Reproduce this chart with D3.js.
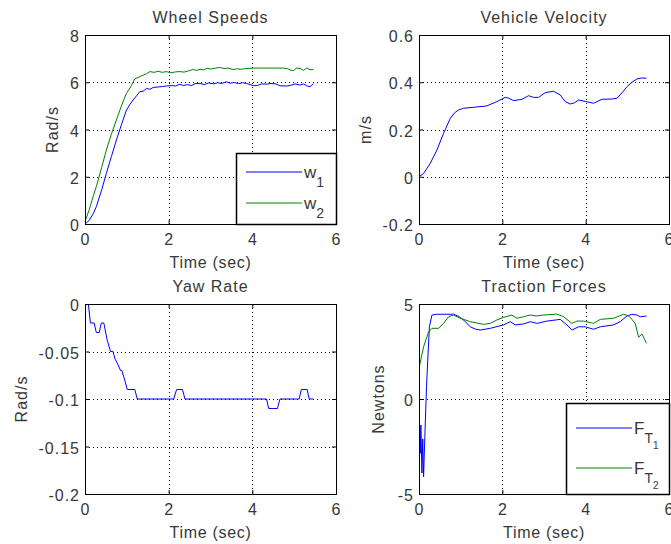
<!DOCTYPE html>
<html>
<head>
<meta charset="utf-8">
<script src="https://cdn.jsdelivr.net/npm/d3@7"></script>
<style>
  body { margin: 0; background: #fff; }
  svg text { font-family: "Liberation Sans", Arial, sans-serif; fill: #383838; }
</style>
</head>
<body>
<div id="chart"></div>
<script>
var width = 671;
var height = 544;

// ---- data ----
var timeTicks = [0, 2, 4, 6];

// wheel speeds, rad/s
var w1 = [[0,0],[0.1,0.15],[0.2,0.45],[0.27,0.73],[0.4,1.45],[0.51,2.14],[0.63,2.85],[0.75,3.55],[0.87,4.2],[0.99,4.82],[1.07,5.05],[1.15,5.25],[1.23,5.42],[1.31,5.6],[1.39,5.62],[1.47,5.74],[1.55,5.7],[1.63,5.78],[1.75,5.8],[1.85,5.82],[1.95,5.84],[2.07,5.86],[2.17,5.84],[2.27,5.92],[2.35,5.86],[2.45,5.9],[2.55,5.86],[2.63,5.94],[2.75,5.95],[2.85,5.9],[2.95,5.97],[3.07,5.93],[3.17,5.98],[3.27,5.95],[3.38,6.02],[3.47,5.96],[3.57,5.99],[3.67,5.94],[3.76,5.98],[3.86,5.95],[4.02,5.86],[4.12,5.86],[4.22,5.93],[4.34,5.92],[4.45,5.95],[4.56,5.93],[4.66,5.85],[4.82,5.84],[4.92,5.87],[5.02,5.93],[5.14,5.88],[5.22,5.93],[5.3,5.85],[5.38,5.81],[5.46,5.95]];
var w2 = [[0,0.1],[0.1,0.6],[0.2,1.2],[0.27,1.58],[0.4,2.4],[0.51,3.13],[0.63,3.8],[0.75,4.4],[0.87,5.0],[0.99,5.53],[1.09,5.8],[1.19,6.14],[1.29,6.22],[1.39,6.3],[1.47,6.36],[1.55,6.45],[1.65,6.42],[1.75,6.46],[1.85,6.42],[1.95,6.45],[2.05,6.4],[2.17,6.44],[2.27,6.45],[2.37,6.43],[2.47,6.48],[2.59,6.54],[2.67,6.5],[2.75,6.55],[2.83,6.52],[2.91,6.59],[3.02,6.56],[3.12,6.6],[3.22,6.63],[3.32,6.58],[3.42,6.6],[3.54,6.54],[3.64,6.57],[3.74,6.55],[3.84,6.58],[4.02,6.6],[4.2,6.6],[4.4,6.6],[4.6,6.6],[4.74,6.6],[4.84,6.57],[4.9,6.52],[4.98,6.49],[5.06,6.6],[5.14,6.59],[5.22,6.5],[5.3,6.6],[5.38,6.53],[5.46,6.54]];

// vehicle velocity, m/s
var velocity = [[0,0.0],[0.11,0.014],[0.27,0.057],[0.43,0.113],[0.59,0.184],[0.75,0.247],[0.85,0.27],[0.95,0.283],[1.07,0.29],[1.31,0.294],[1.63,0.3],[1.87,0.318],[2.07,0.336],[2.15,0.333],[2.27,0.322],[2.47,0.328],[2.63,0.343],[2.75,0.336],[2.87,0.336],[3.03,0.356],[3.23,0.362],[3.39,0.346],[3.51,0.318],[3.63,0.308],[3.73,0.313],[3.83,0.325],[3.99,0.319],[4.19,0.311],[4.39,0.328],[4.63,0.329],[4.75,0.332],[4.87,0.355],[4.99,0.381],[5.11,0.4],[5.23,0.414],[5.35,0.418],[5.46,0.417]];

// yaw rate, rad/s
var yawRate = [[0.08,0],[0.13,-0.02],[0.22,-0.02],[0.27,-0.03],[0.34,-0.03],[0.39,-0.02],[0.45,-0.02],[0.53,-0.038],[0.61,-0.05],[0.67,-0.05],[0.72,-0.058],[0.77,-0.062],[0.85,-0.07],[0.88,-0.07],[0.95,-0.08],[1.01,-0.09],[1.19,-0.09],[1.25,-0.1],[2.12,-0.1],[2.19,-0.09],[2.33,-0.09],[2.39,-0.1],[4.34,-0.1],[4.39,-0.11],[4.6,-0.11],[4.66,-0.1],[5.12,-0.1],[5.17,-0.09],[5.31,-0.09],[5.36,-0.1],[5.46,-0.1]];

// traction forces, N
var ft1 = [[0.016,-1.63],[0.03,-2.86],[0.045,-1.37],[0.07,-3.9],[0.09,-2.1],[0.11,-4.1],[0.14,-1.98],[0.18,0.65],[0.21,2.05],[0.25,3.8],[0.31,4.42],[0.43,4.46],[0.83,4.46],[0.95,4.35],[1.07,4.16],[1.23,3.8],[1.35,3.68],[1.47,3.63],[1.71,3.72],[2.03,3.9],[2.19,4.07],[2.31,3.9],[2.51,3.95],[2.67,4.07],[2.83,3.98],[3.07,4.1],[3.39,4.19],[3.55,3.9],[3.67,3.63],[3.83,3.8],[3.99,3.8],[4.19,3.67],[4.35,3.8],[4.67,3.9],[4.83,4.07],[4.99,4.37],[5.11,4.46],[5.23,4.42],[5.31,4.33],[5.46,4.37]];
var ft2 = [[0.016,1.79],[0.11,2.75],[0.23,3.54],[0.31,3.72],[0.47,3.72],[0.59,3.98],[0.71,4.33],[0.83,4.42],[0.99,4.25],[1.23,4.07],[1.55,3.93],[1.71,3.98],[1.87,4.16],[2.03,4.3],[2.23,4.42],[2.35,4.25],[2.51,4.33],[2.67,4.42],[2.83,4.37],[2.99,4.42],[3.31,4.47],[3.47,4.33],[3.55,4.19],[3.67,3.98],[3.79,4.1],[3.95,4.1],[4.19,3.98],[4.35,4.19],[4.67,4.25],[4.91,4.46],[5.03,4.37],[5.11,4.19],[5.19,3.98],[5.27,3.25],[5.35,3.42],[5.46,2.93]];

var speedTicks = [0, 2, 4, 6, 8];
var velTicks = [-0.2, 0, 0.2, 0.4, 0.6];
var velLabels = ["-0.2", "0", "0.2", "0.4", "0.6"];
var yawTicks = [-0.2, -0.15, -0.1, -0.05, 0];
var yawLabels = ["-0.2", "-0.15", "-0.1", "-0.05", "0"];
var forceTicks = [-5, 0, 5];
var forceLabels = ["-5", "0", "5"];

var BLUE = "#0000ff";
var GREEN = "#008000";

var svg = d3.select("#chart").append("svg")
    .attr("width", width)
    .attr("height", height);

function panel(cfg) {
  var x = d3.scaleLinear().domain([0, 6]).range([cfg.left, cfg.left + cfg.w]);
  var y = d3.scaleLinear().domain(cfg.yDomain).range([cfg.top + cfg.h, cfg.top]);
  var g = svg.append("g");
  var yLabels = cfg.yLabels || cfg.yTicks.map(String);

  // dotted grid
  g.selectAll(".gx").data(timeTicks.slice(1, -1)).enter().append("line")
    .attr("x1", d => Math.round(x(d)) + 0.5).attr("x2", d => Math.round(x(d)) + 0.5)
    .attr("y1", cfg.top).attr("y2", cfg.top + cfg.h)
    .attr("stroke", "#000").attr("stroke-dasharray", "1,3");
  g.selectAll(".gy").data(cfg.yTicks.slice(1, -1)).enter().append("line")
    .attr("y1", d => Math.round(y(d)) + 0.5).attr("y2", d => Math.round(y(d)) + 0.5)
    .attr("x1", cfg.left).attr("x2", cfg.left + cfg.w)
    .attr("stroke", "#000").attr("stroke-dasharray", "1,3");

  // series
  var line = d3.line().x(d => x(d[0])).y(d => y(d[1]));
  cfg.series.forEach(function(s) {
    g.append("path").datum(s.data)
      .attr("d", line)
      .attr("fill", "none")
      .attr("stroke", s.color)
      .attr("stroke-width", 1);
  });

  // box with inward ticks on all sides
  var xAxB = d3.axisTop(x).tickValues(timeTicks).tickSize(4).tickFormat("");
  var xAxT = d3.axisBottom(x).tickValues(timeTicks).tickSize(4).tickFormat("");
  var yAxL = d3.axisRight(y).tickValues(cfg.yTicks).tickSize(4).tickFormat("");
  var yAxR = d3.axisLeft(y).tickValues(cfg.yTicks).tickSize(4).tickFormat("");
  g.append("g").attr("transform", "translate(0," + (cfg.top + cfg.h) + ")").call(xAxB);
  g.append("g").attr("transform", "translate(0," + cfg.top + ")").call(xAxT);
  g.append("g").attr("transform", "translate(" + cfg.left + ",0)").call(yAxL);
  g.append("g").attr("transform", "translate(" + (cfg.left + cfg.w) + ",0)").call(yAxR);
  g.selectAll(".domain").attr("stroke", "#000").attr("stroke-width", 1);
  g.selectAll(".tick line").attr("stroke", "#000");

  // tick labels
  g.selectAll(".xl").data(timeTicks).enter().append("text")
    .attr("x", d => x(d)).attr("y", cfg.top + cfg.h + 21)
    .attr("text-anchor", "middle").attr("font-size", 16)
    .text(d => d);
  g.selectAll(".yl").data(cfg.yTicks).enter().append("text")
    .attr("x", cfg.left - 5).attr("y", d => y(d) + 7)
    .attr("text-anchor", "end").attr("font-size", 16).attr("letter-spacing", 1)
    .text((d, i) => yLabels[i]);

  // title and axis labels
  g.append("text").attr("x", cfg.left + cfg.w / 2).attr("y", cfg.top - 12)
    .attr("text-anchor", "middle").attr("font-size", 16).attr("letter-spacing", 1)
    .text(cfg.title);
  g.append("text").attr("x", cfg.left + cfg.w / 2).attr("y", cfg.top + cfg.h + 44)
    .attr("text-anchor", "middle").attr("font-size", 16).attr("letter-spacing", 0.7)
    .text("Time (sec)");
  g.append("text")
    .attr("transform", "translate(" + cfg.yLabelX + "," + (cfg.top + cfg.h / 2) + ") rotate(-90)")
    .attr("text-anchor", "middle").attr("font-size", 16).attr("letter-spacing", 1)
    .text(cfg.ylabel);

  return g;
}

// ---- panels ----
panel({ left: 85, top: 35, w: 251, h: 189, yDomain: [0, 8], yTicks: speedTicks,
  title: "Wheel Speeds", ylabel: "Rad/s", yLabelX: 58,
  series: [{ data: w1, color: BLUE }, { data: w2, color: GREEN }] });

panel({ left: 419, top: 35, w: 250, h: 189, yDomain: [-0.2, 0.6], yTicks: velTicks, yLabels: velLabels,
  title: "Vehicle Velocity", ylabel: "m/s", yLabelX: 371,
  series: [{ data: velocity, color: BLUE }] });

panel({ left: 85, top: 304, w: 251, h: 190, yDomain: [-0.2, 0], yTicks: yawTicks, yLabels: yawLabels,
  title: "Yaw Rate", ylabel: "Rad/s", yLabelX: 27,
  series: [{ data: yawRate, color: BLUE }] });

panel({ left: 419, top: 304, w: 250, h: 190, yDomain: [-5, 5], yTicks: forceTicks, yLabels: forceLabels,
  title: "Traction Forces", ylabel: "Newtons", yLabelX: 384,
  series: [{ data: ft1, color: BLUE }, { data: ft2, color: GREEN }] });

// ---- legends ----
function legend(box, entries) {
  var g = svg.append("g");
  g.append("rect").attr("x", box.x + 0.5).attr("y", box.y + 0.5)
    .attr("width", box.w).attr("height", box.h)
    .attr("fill", "#fff").attr("stroke", "#000").attr("stroke-width", 1.5);
  entries.forEach(function(e) {
    g.append("line").attr("x1", box.x + 10).attr("x2", box.x + 66)
      .attr("y1", e.y).attr("y2", e.y)
      .attr("stroke", e.color).attr("stroke-width", 1);
    var t = g.append("text").attr("x", box.x + 68).attr("y", e.y + 6).attr("font-size", 17);
    t.append("tspan").text(e.main);
    t.append("tspan").attr("dy", 9).attr("font-size", 14).text(e.sub);
    if (e.sub2) t.append("tspan").attr("dy", 6).attr("font-size", 10).text(e.sub2);
  });
}

legend({ x: 236, y: 153, w: 100, h: 71 }, [
  { y: 172, color: BLUE, main: "w", sub: "1" },
  { y: 203, color: GREEN, main: "w", sub: "2" }
]);

legend({ x: 566, y: 403, w: 103, h: 91 }, [
  { y: 428, color: BLUE, main: "F", sub: "T", sub2: "1" },
  { y: 468, color: GREEN, main: "F", sub: "T", sub2: "2" }
]);
</script>
</body>
</html>
